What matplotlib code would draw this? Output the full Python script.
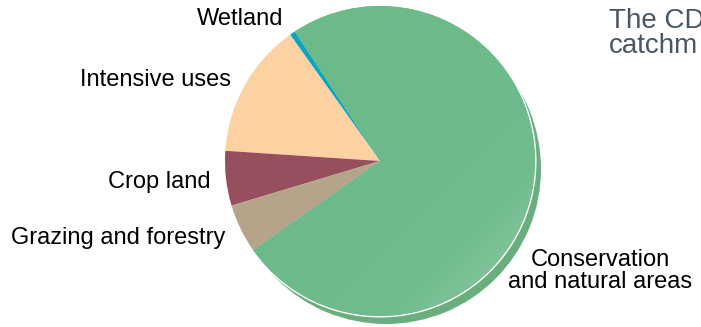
import matplotlib.pyplot as plt
import numpy as np
from matplotlib.colors import LinearSegmentedColormap

plt.rcParams['font.family'] = ['Liberation Sans', 'DejaVu Sans']

# land use shares (%), counter-clockwise from the wetland slice
categories = ['Wetland', 'Intensive uses', 'Crop land', 'Grazing and forestry',
              'Conservation\nand natural areas']
shares = [0.6, 14.1, 5.7, 5.1, 74.5]
colors = ['#0aa6c2', '#fdd2a3', '#984f5d', '#b5a38a', '#6dba8b']

W, H = 701, 327
fig = plt.figure(figsize=(W / 100, H / 100), dpi=100)
ax = fig.add_axes([0, 0, 1, 1])

cx, cy, r = 380, H - 161, 155

# shadow, then a thin white rim, then the pie itself
ax.pie([1], colors=['#6aae80'], radius=r, center=(cx + 6, cy - 8), startangle=90,
       wedgeprops=dict(linewidth=0), frame=True)
ax.pie([1], colors=['white'], radius=r + 1.5, center=(cx, cy), startangle=90,
       wedgeprops=dict(linewidth=0), frame=True)
wedges, _ = ax.pie(shares, colors=colors, radius=r, center=(cx, cy), startangle=123.3,
                   wedgeprops=dict(linewidth=0), frame=True)

# soft light on the big green slice, lighter to the bottom right
gx, gy = np.meshgrid(np.linspace(0, 1, 200), np.linspace(0, 1, 200))
t = np.clip((gx + gy) / 2, 0, 1) ** 2.5
cmap = LinearSegmentedColormap.from_list('g', ['#6cb98a', '#70bc8e', '#9ad1ab'])
im = ax.imshow(t, cmap=cmap, extent=(cx - r, cx + r, cy - r, cy + r), origin='upper',
               zorder=wedges[-1].get_zorder() + 0.1, aspect='auto')
im.set_clip_path(wedges[-1])

ax.set_xlim(0, W)
ax.set_ylim(0, H)
ax.set_aspect('auto')
ax.axis('off')

fs = 17
ax.text(240, H - 19, categories[0], ha='center', va='center', fontsize=fs)
ax.text(231, H - 80, categories[1], ha='right', va='center', fontsize=fs)
ax.text(211, H - 182, categories[2], ha='right', va='center', fontsize=fs)
ax.text(225, H - 238, categories[3], ha='right', va='center', fontsize=fs)
ax.text(600, H - 271, categories[4], ha='center', va='center', fontsize=fs,
        linespacing=1.05)

ax.text(609, H - 21, 'The CD', ha='left', va='center', fontsize=20, color='#4a5763')
ax.text(609, H - 46, 'catchm', ha='left', va='center', fontsize=20, color='#4a5763')

fig.savefig('out.png', dpi=100)
